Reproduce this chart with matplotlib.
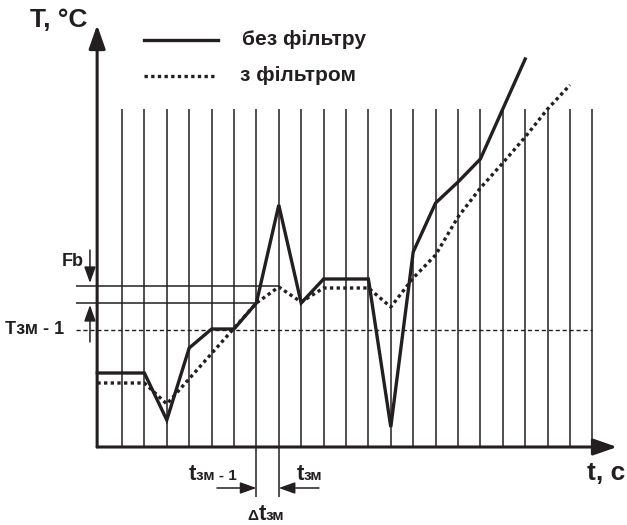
import numpy as np
import matplotlib.pyplot as plt
from matplotlib.offsetbox import TextArea, HPacker, AnnotationBbox

plt.rcParams['font.family'] = ['Liberation Sans', 'DejaVu Sans']

# time steps (grid lines) and temperatures, arbitrary units
grid_t = np.arange(1, 23)

raw_t = [-0.1, 2, 3, 4, 5, 6, 7, 8, 9, 10, 12, 13, 14, 15, 16, 17, 18, 19]
raw_T = [7.4, 7.4, 2.7, 9.9, 11.8, 11.8, 14.4, 24.2, 14.4, 16.8, 16.8, 2.0,
         19.5, 24.4, 26.5, 28.8, 33.8, 38.8]

filt_t = [-0.1, 2, 3, 7, 8, 9, 10, 12, 13, 14, 15, 16, 17, 18, 19, 20, 21]
filt_T = [6.4, 6.4, 4.3, 14.4, 16.0, 14.5, 15.9, 15.9, 14.0, 16.9, 19.2,
          23.0, 25.9, 28.4, 31.0, 33.8, 36.2]

T_set = 11.7          # Tзм - 1
Fb_low, Fb_high = 14.4, 16.15

c = '#231f20'

fig = plt.figure(figsize=(6.27, 5.25), dpi=100)
ax = fig.add_axes([0, 0, 1, 1])
ax.set_xlim(-4.446, 23.545)
ax.set_ylim(-7.8, 44.7)
ax.axis('off')

# vertical grid
ax.vlines(grid_t, 0, 33.8, color=c, lw=1.1)

# Fb band and set level
ax.hlines(Fb_high, -1.05, 8, color=c, lw=1.1)
ax.hlines(Fb_low, -1.05, 7, color=c, lw=1.1)
ax.plot([-1.05, 22], [T_set, T_set], color=c, lw=1.0, ls=(0, (3, 2)))

# markers below axis for t_зм-1 and t_зм
ax.vlines([7, 8], -5, 0, color=c, lw=1.1)

# axes with arrows
arrow = dict(arrowstyle='-|>,head_length=0.8,head_width=0.28', lw=2.2,
             color=c, mutation_scale=18, shrinkA=0, shrinkB=0)
ax.annotate('', xy=(-0.11, 42.2), xytext=(-0.11, 0), arrowprops=arrow)
ax.annotate('', xy=(23.1, 0), xytext=(-0.11, 0), arrowprops=arrow)

# series
ax.plot(raw_t, raw_T, color=c, lw=2.4, solid_joinstyle='miter')
ax.plot(filt_t, filt_T, color=c, lw=2.4, ls=(0, (1, 1)))

# legend
ax.plot([1.98, 5.29], [40.7, 40.7], color=c, lw=2.4)
ax.plot([1.98, 5.15], [37.1, 37.1], color=c, lw=2.4, ls=(0, (1, 1)))
ax.text(6.37, 40.7, 'без фільтру', fontsize=15, fontweight='bold', color=c,
        ha='left', va='center')
ax.text(6.27, 37.1, 'з фільтром', fontsize=15, fontweight='bold', color=c,
        ha='left', va='center')

# small arrows
small = dict(arrowstyle='-|>,head_length=0.7,head_width=0.25', lw=1.1,
             color=c, mutation_scale=14, shrinkA=0, shrinkB=0)
ax.annotate('', xy=(-0.43, 16.4), xytext=(-0.43, 19.7), arrowprops=small)
ax.annotate('', xy=(-0.43, 14.2), xytext=(-0.43, 10.5), arrowprops=small)
ax.annotate('', xy=(7, -4.1), xytext=(5.24, -4.1), arrowprops=small)
ax.annotate('', xy=(8, -4.1), xytext=(9.79, -4.1), arrowprops=small)

# labels
bold = dict(fontweight='bold', color=c)
ax.text(-0.56, 42.7, 'T, °C', fontsize=19, ha='right', va='center', **bold)
ax.text(23.45, -2.6, 't, с', fontsize=19, ha='right', va='center', **bold)
ax.text(-1.19, 18.5, 'Fb', fontsize=13, ha='center', va='center', **bold)
ax.text(-4.22, T_set, 'Tзм - 1', fontsize=13, ha='left', va='center', **bold)


def t_label(pre, rest, xy):
    parts = []
    if pre:
        parts.append(TextArea(pre, textprops=dict(fontsize=11, **bold)))
    parts.append(TextArea('t', textprops=dict(fontsize=16, **bold)))
    parts.append(TextArea(rest, textprops=dict(fontsize=11, **bold)))
    box = HPacker(children=parts, align='baseline', pad=0, sep=0)
    ab = AnnotationBbox(box, xy, frameon=False, box_alignment=(0.5, 0.5),
                        pad=0)
    ax.add_artist(ab)


t_label('', 'зм - 1', (5.07, -2.8))
t_label('', 'зм', (9.37, -2.8))
t_label('Δ', 'зм', (7.43, -6.8))

fig.savefig('out.png', dpi=100)
